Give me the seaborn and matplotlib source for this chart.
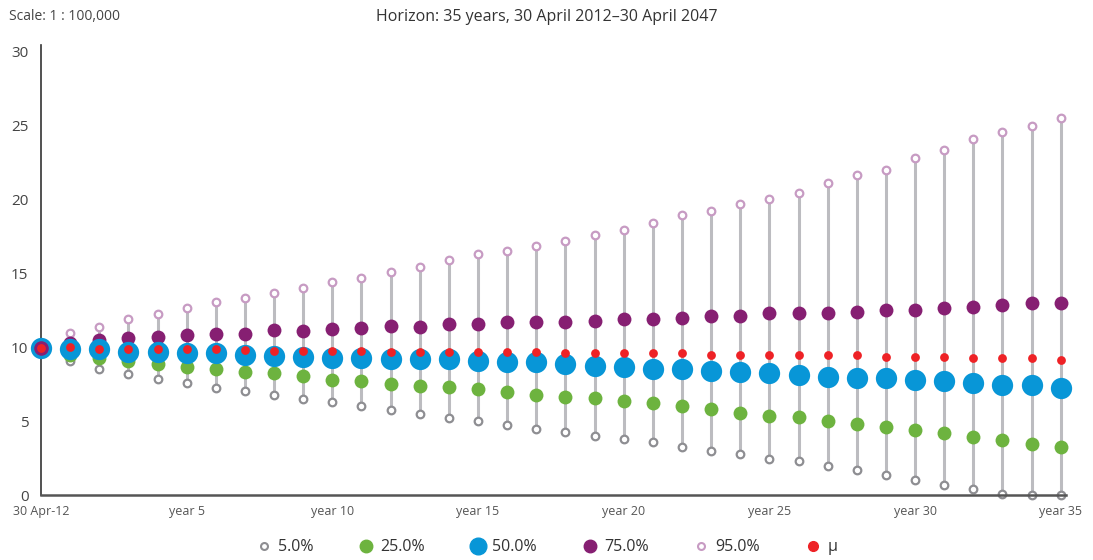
## for data
import numpy as np
import pandas as pd

## for plotting
import matplotlib
matplotlib.use("Agg")
import matplotlib.pyplot as plt
from matplotlib.lines import Line2D
import seaborn as sns


###############################################################################
# data (value per year, 0..35)

years = list(range(36))

p05 = [10.0, 9.09, 8.53, 8.21, 7.87, 7.58, 7.24, 7.04, 6.81, 6.50, 6.30, 6.07,
       5.76, 5.53, 5.24, 5.01, 4.79, 4.47, 4.27, 4.04, 3.84, 3.64, 3.30, 2.99,
       2.78, 2.45, 2.33, 2.01, 1.70, 1.39, 1.05, 0.73, 0.42, 0.08, 0.0, 0.0]
p25 = [10.0, 9.49, 9.27, 9.09, 8.89, 8.66, 8.57, 8.37, 8.26, 8.05, 7.82, 7.74,
       7.53, 7.40, 7.31, 7.20, 6.99, 6.77, 6.68, 6.57, 6.36, 6.25, 6.03, 5.82,
       5.60, 5.39, 5.28, 5.05, 4.83, 4.63, 4.40, 4.20, 3.97, 3.77, 3.46, 3.26]
p50 = [10.0, 9.88, 9.88, 9.72, 9.72, 9.65, 9.65, 9.49, 9.43, 9.38, 9.31, 9.31,
       9.24, 9.20, 9.24, 9.11, 9.02, 9.02, 8.89, 8.75, 8.66, 8.57, 8.57, 8.39,
       8.37, 8.26, 8.14, 8.03, 7.92, 7.92, 7.80, 7.74, 7.60, 7.49, 7.49, 7.28]
p75 = [10.0, 10.28, 10.51, 10.62, 10.71, 10.82, 10.93, 10.93, 11.16, 11.14,
       11.23, 11.34, 11.45, 11.36, 11.59, 11.56, 11.70, 11.70, 11.70, 11.81,
       11.90, 11.90, 12.01, 12.11, 12.13, 12.31, 12.31, 12.31, 12.42, 12.53,
       12.53, 12.65, 12.76, 12.87, 13.03, 13.03]
p95 = [10.0, 10.96, 11.41, 11.95, 12.28, 12.69, 13.09, 13.32, 13.66, 14.00,
       14.40, 14.72, 15.12, 15.46, 15.89, 16.32, 16.52, 16.86, 17.18, 17.60,
       17.92, 18.43, 18.97, 19.20, 19.72, 20.05, 20.46, 21.11, 21.66, 21.97,
       22.83, 23.34, 24.09, 24.54, 24.97, 25.49]
mu = [10.0, 10.03, 9.92, 9.92, 9.92, 9.92, 9.92, 9.83, 9.79, 9.79, 9.79, 9.79,
      9.72, 9.72, 9.72, 9.72, 9.72, 9.72, 9.61, 9.61, 9.61, 9.61, 9.61, 9.49,
      9.49, 9.49, 9.49, 9.49, 9.49, 9.38, 9.38, 9.38, 9.27, 9.27, 9.27, 9.16]

xtick_pos = [0, 5, 10, 15, 20, 25, 30, 35]
xtick_labels = ["30 Apr-12", "year 5", "year 10", "year 15", "year 20",
                "year 25", "year 30", "year 35"]
ytick_pos = [0, 5, 10, 15, 20, 25, 30]

df = pd.DataFrame({"year": years, "p05": p05, "p25": p25, "p50": p50,
                   "p75": p75, "p95": p95, "mu": mu})

###############################################################################

sns.set_style("white")
plt.rcParams["font.family"] = ["Open Sans", "DejaVu Sans"]

fig = plt.figure(figsize=(10.93, 5.6), dpi=100)
ax = fig.add_axes([0.0375, 0.1152, 0.9375, 0.8044])

# grey stems from 5% to 95%
ax.vlines(df["year"], df["p05"], df["p95"], color="#bcbcc0", lw=2.2, zorder=1)

grey = "#8e8e92"
lilac = "#c79bc3"
green = "#6db33f"
blue = "#0896d7"
purple = "#861f72"
red = "#ee2226"

sns.scatterplot(data=df, x="year", y="p95", ax=ax, s=30, color="white",
                edgecolor=lilac, linewidth=1.6, zorder=2, clip_on=False)
sns.scatterplot(data=df, x="year", y="p05", ax=ax, s=30, color="white",
                edgecolor=grey, linewidth=1.6, zorder=2, clip_on=False)
sns.scatterplot(data=df, x="year", y="p25", ax=ax, s=100, color=green,
                linewidth=0, zorder=3, clip_on=False)
sns.scatterplot(data=df, x="year", y="p75", ax=ax, s=100, color=purple,
                linewidth=0, zorder=3, clip_on=False)
sns.scatterplot(data=df, x="year", y="p50", ax=ax, s=235, color=blue,
                linewidth=0, zorder=4, clip_on=False)
sns.scatterplot(data=df, x="year", y="mu", ax=ax, s=40, color=red,
                linewidth=0, zorder=5, clip_on=False)
# first point: purple shows inside the blue one
ax.scatter([0], [p75[0]], s=110, color=purple, lw=0, zorder=4.5, clip_on=False)

ax.set_xlim(0, 35.17)
ax.set_ylim(0, 30.45)
ax.set_xticks(xtick_pos)
ax.set_xticklabels(xtick_labels)
ax.set_yticks(ytick_pos)
ax.set_xlabel("")
ax.set_ylabel("")
ax.tick_params(axis="x", length=0, pad=7, labelsize=9, labelcolor="#555555")
ax.tick_params(axis="y", length=0, pad=9, labelsize=11, labelcolor="#444444")
plt.grid(False)
ax.spines["right"].set_visible(False)
ax.spines["top"].set_visible(False)
ax.spines["left"].set_color("#333333")
ax.spines["bottom"].set_color("#555555")
ax.spines["left"].set_linewidth(1.2)
ax.spines["bottom"].set_linewidth(1.8)

fig.text(0.008, 0.97, "Scale: 1 : 100,000", fontsize=10, color="#444444",
         va="center", ha="left")
fig.text(0.5, 0.97, "Horizon: 35 years, 30 April 2012\u201330 April 2047",
         fontsize=11.5, color="#333333", va="center", ha="center")

handles = [
    Line2D([], [], ls="", marker="o", ms=5, mfc="white", mec=grey, mew=1.5),
    Line2D([], [], ls="", marker="o", ms=9, mfc=green, mec=green),
    Line2D([], [], ls="", marker="o", ms=12, mfc=blue, mec=blue),
    Line2D([], [], ls="", marker="o", ms=9, mfc=purple, mec=purple),
    Line2D([], [], ls="", marker="o", ms=5, mfc="white", mec=lilac, mew=1.5),
    Line2D([], [], ls="", marker="o", ms=7, mfc=red, mec=red),
]
labels = ["5.0%", "25.0%", "50.0%", "75.0%", "95.0%", "\u03bc"]
fig.legend(handles, labels, loc="center", bbox_to_anchor=(0.5, 0.023),
           ncol=6, frameon=False, fontsize=11.5, handlelength=1.0,
           handletextpad=0.4, columnspacing=2.8, labelcolor="#333333")

fig.savefig("out.png", dpi=100)
